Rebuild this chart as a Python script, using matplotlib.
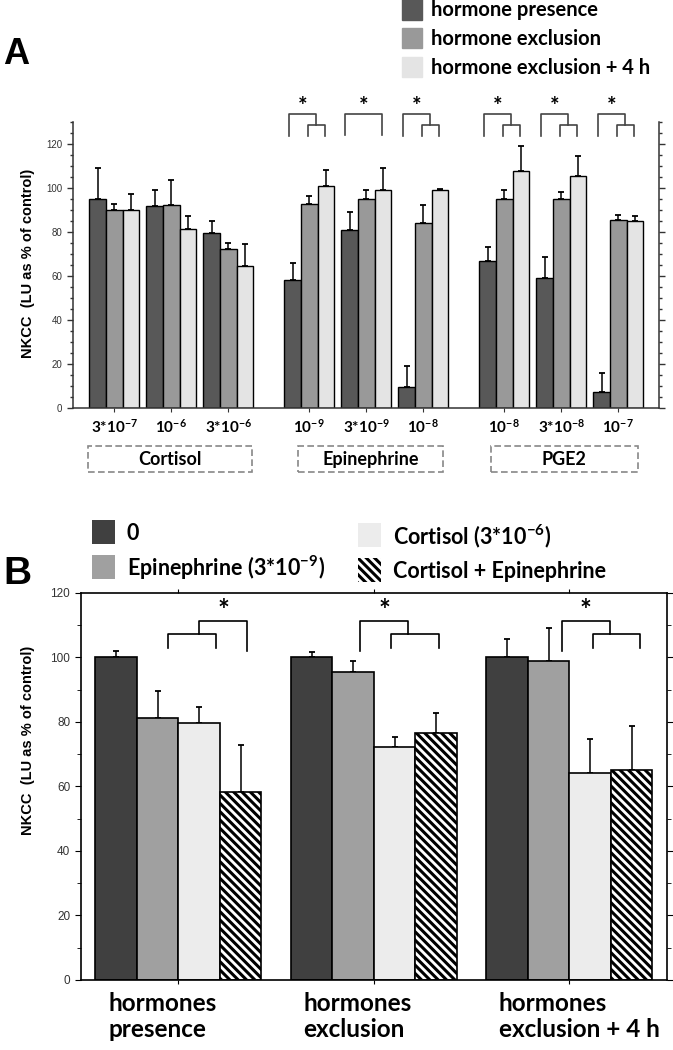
"""NKCC activity vs hormone treatment: panels A and B."""

import matplotlib
matplotlib.use("Agg")

import numpy as np
import matplotlib.pyplot as plt
import matplotlib.ticker as mticker
from matplotlib.patches import Rectangle
from matplotlib.transforms import blended_transform_factory

plt.rcParams["font.family"] = ["Liberation Sans", "DejaVu Sans"]
plt.rcParams["mathtext.default"] = "regular"
plt.rcParams["hatch.linewidth"] = 2.2

# ---------------- panel A data ----------------
hormones_a = ["Cortisol", "Epinephrine", "PGE2"]
doses_a = ["3*10$^{-7}$", "10$^{-6}$", "3*10$^{-6}$",
           "10$^{-9}$", "3*10$^{-9}$", "10$^{-8}$",
           "10$^{-8}$", "3*10$^{-8}$", "10$^{-7}$"]
series_a = ["hormone presence", "hormone exclusion", "hormone exclusion + 4 h"]
presence = [95.1, 91.8, 79.7, 58.4, 81.0, 9.8, 66.9, 59.3, 7.5]
presence_err = [13.9, 7.1, 5.1, 7.6, 7.9, 9.5, 6.3, 9.4, 8.3]
exclusion = [89.8, 92.2, 72.3, 92.8, 95.1, 83.9, 95.1, 95.1, 85.6]
exclusion_err = [2.9, 11.5, 2.7, 3.5, 3.8, 8.5, 3.8, 3.0, 1.9]
exclusion_4h = [89.8, 81.5, 64.6, 101.0, 98.9, 98.9, 107.6, 105.5, 84.8]
exclusion_4h_err = [7.6, 5.6, 9.7, 6.9, 10.2, 0.4, 11.5, 8.8, 2.3]
# significance: nested bracket (presence vs both exclusions) or single bracket
sig_nested_a = [3, 5, 6, 7, 8]
sig_single_a = [4]

# ---------------- panel B data ----------------
conditions_b = ["hormones\npresence", "hormones\nexclusion", "hormones\nexclusion + 4 h"]
series_b = ["0", "Epinephrine (3*10$^{-9}$)", "Cortisol (3*10$^{-6}$)", "Cortisol + Epinephrine"]
ctrl_b = [100.0, 100.0, 100.0]
ctrl_b_err = [1.8, 1.7, 5.8]
epi_b = [81.3, 95.3, 98.9]
epi_b_err = [8.1, 3.6, 10.3]
cort_b = [79.7, 72.3, 64.2]
cort_b_err = [4.9, 3.1, 10.5]
combo_b = [58.3, 76.4, 65.1]
combo_b_err = [14.4, 6.2, 13.7]

# ---------------- styling ----------------
W, H = 673, 1050
colors_a = ["#585858", "#999999", "#e4e4e4"]
colors_b = ["#404040", "#a0a0a0", "#ececec", "white"]
BOLD = dict(family=["Lato", "DejaVu Sans"], weight="bold")
YLABEL = "NKCC  (LU as % of control)"
HATCH = "\\\\\\\\"


def fx(px):
    return px / W


def fy(py):
    return 1 - py / H


fig = plt.figure(figsize=(W / 100, H / 100), dpi=100)

# =============== panel A ===============
axA = fig.add_axes([fx(72.7), fy(408.3), (659.3 - 72.7) / W, (408.3 - 121.7) / H])
gap = 0.42
xa = np.array([g * (3 + gap) + j for g in range(3) for j in range(3)])
wa = 0.2925
vals_a = [presence, exclusion, exclusion_4h]
errs_a = [presence_err, exclusion_err, exclusion_4h_err]
for k in range(3):
    axA.bar(xa + (k - 1) * wa, vals_a[k], wa, color=colors_a[k],
            edgecolor="black", linewidth=1.0, zorder=2)
    axA.errorbar(xa + (k - 1) * wa, vals_a[k],
                 yerr=[np.zeros(len(xa)), errs_a[k]], fmt="none",
                 ecolor="black", elinewidth=1.1, capsize=2.5, capthick=1.3, zorder=1)

axA.set_xlim(-0.73, 9.56)
axA.set_ylim(0, 130)
axA.spines["top"].set_visible(False)
for s in ["left", "right", "bottom"]:
    axA.spines[s].set_color("#333333")
    axA.spines[s].set_linewidth(1.1)
axA.yaxis.set_major_locator(mticker.FixedLocator(np.arange(0, 121, 20)))
axA.yaxis.set_minor_locator(mticker.MultipleLocator(5))
axA.tick_params(axis="y", which="both", direction="out", right=True,
                labelsize=7, labelcolor="#333333", color="#333333")
axA.tick_params(axis="y", which="major", length=4, width=1)
axA.tick_params(axis="y", which="minor", length=2.5, width=1)
axA.set_xticks(xa)
axA.set_xticklabels(doses_a, fontsize=11, **BOLD)
axA.tick_params(axis="x", length=3, pad=4, color="#333333")

# brackets
bA = dict(color="#444444", lw=1.2, clip_on=False)
for i in sig_nested_a:
    c = xa[i]
    o1, o2, i1, i2 = c - 0.35, c + 0.11, c - 0.02, c + 0.28
    axA.plot([o1, o1, o2, o2], [123.5, 133.6, 133.6, 128.3], **bA)
    axA.plot([i1, i1, i2, i2], [123.7, 128.3, 128.3, 123.7], **bA)
    axA.text((o1 + o2) / 2, 137.0, "*", ha="center", va="center", fontsize=16, **BOLD)
for i in sig_single_a:
    c = xa[i]
    o1, o2 = c - 0.37, c + 0.27
    axA.plot([o1, o1, o2, o2], [124.0, 133.6, 133.6, 124.0], **bA)
    axA.text((o1 + o2) / 2, 137.0, "*", ha="center", va="center", fontsize=16, **BOLD)

# dashed hormone boxes
tr = blended_transform_factory(axA.transData, axA.transAxes)
box_spans = [(-0.46, 2.42), (3.22, 5.77), (6.60, 9.19)]
for name, (x0, x1) in zip(hormones_a, box_spans):
    axA.add_patch(Rectangle((x0, -0.222), x1 - x0, 0.09, transform=tr, fill=False,
                            edgecolor="#888888", linestyle=(0, (4, 2)), lw=1.2,
                            clip_on=False))
    axA.text((x0 + x1) / 2, -0.177, name, transform=tr, ha="center", va="center",
             fontsize=13, **BOLD)

fig.text(fx(28), fy(263), YLABEL, rotation=90, ha="center", va="center",
         fontsize=10.5, fontweight="bold")
fig.text(fx(3), fy(54), "A", ha="left", va="center", fontsize=26, fontweight="bold")

# legend A
for k, (lab, yc) in enumerate(zip(series_a, [9.5, 38, 67])):
    fig.patches.append(Rectangle((fx(402), fy(yc + 10)), 20 / W, 20 / H,
                                 transform=fig.transFigure, color=colors_a[k]))
    fig.text(fx(431), fy(yc + 1), lab, ha="left", va="center", fontsize=14.5, **BOLD)

# =============== panel B ===============
axB = fig.add_axes([fx(80.7), fy(980), (667 - 80.7) / W, (980 - 592.7) / H])
xb = np.arange(len(conditions_b))
wb = 0.2125
vals_b = [ctrl_b, epi_b, cort_b, combo_b]
errs_b = [ctrl_b_err, epi_b_err, cort_b_err, combo_b_err]
for k in range(4):
    axB.bar(xb + (k - 1.5) * wb, vals_b[k], wb, color=colors_b[k],
            edgecolor="black", linewidth=1.2, hatch=HATCH if k == 3 else None,
            zorder=2)
    axB.errorbar(xb + (k - 1.5) * wb, vals_b[k],
                 yerr=[np.zeros(len(xb)), errs_b[k]], fmt="none",
                 ecolor="black", elinewidth=1.1, capsize=2.5, capthick=1.3, zorder=1)

axB.set_xlim(-0.5, 2.5)
axB.set_ylim(0, 120)
for s in axB.spines.values():
    s.set_linewidth(1.2)
axB.yaxis.set_major_locator(mticker.FixedLocator(np.arange(0, 121, 20)))
axB.yaxis.set_minor_locator(mticker.MultipleLocator(10))
axB.tick_params(axis="y", which="both", direction="out", right=True,
                labelsize=8.5, labelcolor="#333333")
axB.tick_params(axis="y", which="major", length=4)
axB.tick_params(axis="y", which="minor", length=3)
axB.set_xticks(xb)
axB.set_xticklabels([])
axB.tick_params(axis="x", top=True, direction="out", length=3)

trB = blended_transform_factory(axB.transData, axB.transAxes)
for x, lab in zip(xb, conditions_b):
    axB.text(x - 0.36, -0.031, lab, transform=trB, ha="left", va="top",
             fontsize=17.5, linespacing=1.15, **BOLD)

bB = dict(color="black", lw=1.2, clip_on=False)
# (outer left, outer right, inner left, inner right); inner sits on the side
# of the outer bracket that drops onto it
brackets_b = [(0.107, 0.35, -0.053, 0.192, "left"),
              (-0.07, 0.175, 0.088, 0.332, "right"),
              (-0.039, 0.206, 0.121, 0.364, "right")]
for x, (o1, o2, i1, i2, side) in zip(xb, brackets_b):
    if side == "left":
        axB.plot([x + o1, x + o1, x + o2, x + o2], [107.1, 111.3, 111.3, 101.9], **bB)
    else:
        axB.plot([x + o1, x + o1, x + o2, x + o2], [101.9, 111.3, 111.3, 107.1], **bB)
    axB.plot([x + i1, x + i1, x + i2, x + i2], [102.8, 107.1, 107.1, 102.8], **bB)
    axB.text(x + (o1 + o2) / 2, 114.2, "*", ha="center", va="center", fontsize=20, **BOLD)

fig.text(fx(28), fy(740), YLABEL, rotation=90, ha="center", va="center",
         fontsize=10.5, fontweight="bold")
fig.text(fx(3), fy(574), "B", ha="left", va="center", fontsize=28, fontweight="bold")

# legend B (two columns)
leg_b = [(91.7, 532, 126.7), (91.7, 567, 126.7), (358, 535, 393), (358, 570, 393)]
for k, (sx, yc, tx) in enumerate(leg_b):
    fig.patches.append(Rectangle((fx(sx), fy(yc + 12)), 23 / W, 24 / H,
                                 transform=fig.transFigure, facecolor=colors_b[k],
                                 edgecolor="black" if k == 3 else "none", linewidth=0,
                                 hatch=HATCH if k == 3 else None))
    fig.text(fx(tx), fy(yc + 1), series_b[k], ha="left", va="center", fontsize=15.5, **BOLD)

fig.savefig("out.png", dpi=100)
